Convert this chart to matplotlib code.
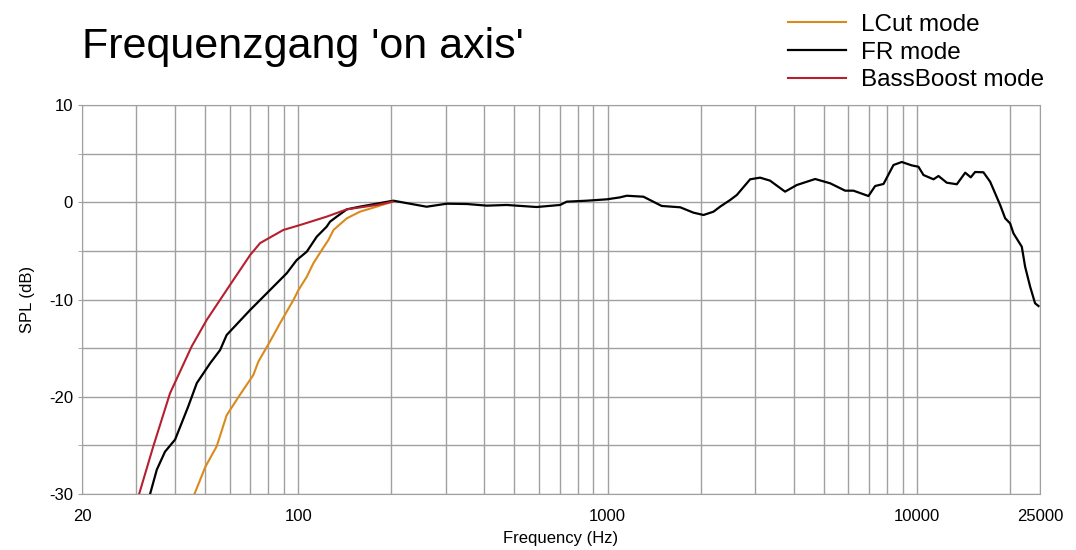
import numpy as np
import matplotlib
matplotlib.use("Agg")
import matplotlib.pyplot as plt
from matplotlib.ticker import FixedLocator, NullFormatter, FixedFormatter

plt.rcParams["font.family"] = ["Liberation Sans", "DejaVu Sans"]
plt.rcParams["axes.unicode_minus"] = False

# BassBoost mode (red)
bass_f = [30.6, 34.0, 38.5, 45.2, 50.6, 60.2, 69.9, 75.3, 89.5, 101.4, 123.6, 143.6, 179.5, 202]
bass_db = [-30, -25.1, -19.65, -14.85, -12.1, -8.5, -5.43, -4.2, -2.85, -2.34, -1.48, -0.73, -0.28, 0.06]

# LCut mode (orange)
lcut_f = [46.2, 50.1, 54.5, 58.7, 64.8, 71.6, 74.3, 81.1, 87.3, 96.5, 100.2, 106.6, 111.9,
          119.2, 125.2, 130.0, 143.6, 158.4, 179.5, 202]
lcut_db = [-30, -27.2, -25.1, -21.9, -19.8, -17.76, -16.4, -14.3, -12.45, -10.05, -9.02, -7.66,
           -6.28, -4.91, -3.88, -2.85, -1.65, -0.97, -0.45, 0.06]

# FR mode (black)
fr_f = [33.2, 34.9, 37.1, 40.0, 44.1, 47.0, 51.9, 55.9, 58.7, 69.9, 75.3, 81.1, 91.8, 98.9,
        106.6, 114.8, 123.6, 126.7, 133.2, 143.6, 158.4, 203,
        260, 302, 351, 407, 472, 590, 702, 738, 857, 994, 1096, 1153, 1306, 1496, 1718, 1895,
        2043, 2200, 2312, 2490, 2618, 2890, 3112, 3352, 3748, 4089, 4689, 5243, 5863, 6237,
        6973, 7329, 7800, 8400, 8933, 9625, 10117, 10500, 11316, 11744, 12490, 13460, 14330,
        14930, 15420, 16410, 17250, 17900, 18580, 19290, 20010, 20520, 21830, 22380, 23230,
        24100, 24720]
fr_db = [-30, -27.5, -25.65, -24.4, -21.0, -18.6, -16.56, -15.2, -13.65, -11.08, -10.05, -9.02,
         -7.3, -5.94, -5.08, -3.54, -2.51, -2.0, -1.48, -0.73, -0.45, 0.16,
         -0.46, -0.15, -0.18, -0.35, -0.28, -0.49, -0.28, 0.06, 0.16, 0.3, 0.5, 0.67, 0.57, -0.38,
         -0.52, -1.07, -1.31, -0.97, -0.45, 0.23, 0.75, 2.36, 2.53, 2.22, 1.09, 1.77, 2.39, 1.95,
         1.19, 1.19, 0.64, 1.67, 1.88, 3.83, 4.14, 3.79, 3.65, 2.8, 2.36, 2.7, 2.01, 1.85, 3.04,
         2.56, 3.11, 3.08, 2.11, 0.92, -0.28, -1.65, -2.17, -3.2, -4.57, -6.63, -8.68, -10.39,
         -10.67]

x_ticks = [20, 100, 1000, 10000, 25000]
y_ticks = [10, 0, -10, -20, -30]

fig = plt.figure(figsize=(10.76, 5.5), dpi=100)
ax = fig.add_axes([82 / 1076, 1 - 494 / 550, 958 / 1076, 389 / 550])

ax.plot(lcut_f, lcut_db, color="#d98a1c", lw=1.5, label="LCut mode")
ax.plot(fr_f, fr_db, color="black", lw=1.6, label="FR mode")
ax.plot(bass_f, bass_db, color="#b51f2e", lw=1.5, label="BassBoost mode")

ax.set_xscale("log")
ax.set_xlim(20, 25000)
ax.set_ylim(-30, 10)

# vertical grid at every 1-2-3..9 step per decade
grid_x = [f * d for d in (10, 100, 1000) for f in range(2, 10)] + [10000, 20000]
grid_x = [g for g in grid_x if 20 < g < 25000]
ax.xaxis.set_major_locator(FixedLocator(x_ticks))
ax.xaxis.set_major_formatter(FixedFormatter([str(t) for t in x_ticks]))
ax.xaxis.set_minor_locator(FixedLocator(grid_x))
ax.xaxis.set_minor_formatter(NullFormatter())
ax.set_yticks(y_ticks)
ax.set_yticks(np.arange(-25, 10, 10), minor=True)

ax.grid(True, which="both", color="#a0a0a0", lw=1.0)
ax.set_axisbelow(True)
for s in ax.spines.values():
    s.set_color("#a0a0a0")
ax.tick_params(axis="both", which="both", colors="#a0a0a0", labelcolor="black",
               labelsize=12, length=3)
ax.tick_params(axis="x", which="minor", length=0)
ax.tick_params(axis="x", which="major", length=0, pad=11)
ax.tick_params(axis="y", which="minor", length=3)

ax.set_xlabel("Frequency (Hz)", fontsize=12, labelpad=5)
ax.set_ylabel("SPL (dB)", fontsize=12, labelpad=10)

fig.text(82 / 1076, 1 - 47 / 550, "Frequenzgang 'on axis'", fontsize=31, va="center", ha="left")

ax.legend(loc="upper left", bbox_to_anchor=(778 / 1076, 1 - 4 / 550), bbox_transform=fig.transFigure,
          frameon=False, fontsize=17.5, handlelength=2.4, handletextpad=0.6, labelspacing=0.24,
          borderaxespad=0)

fig.savefig("out.png", dpi=100)
